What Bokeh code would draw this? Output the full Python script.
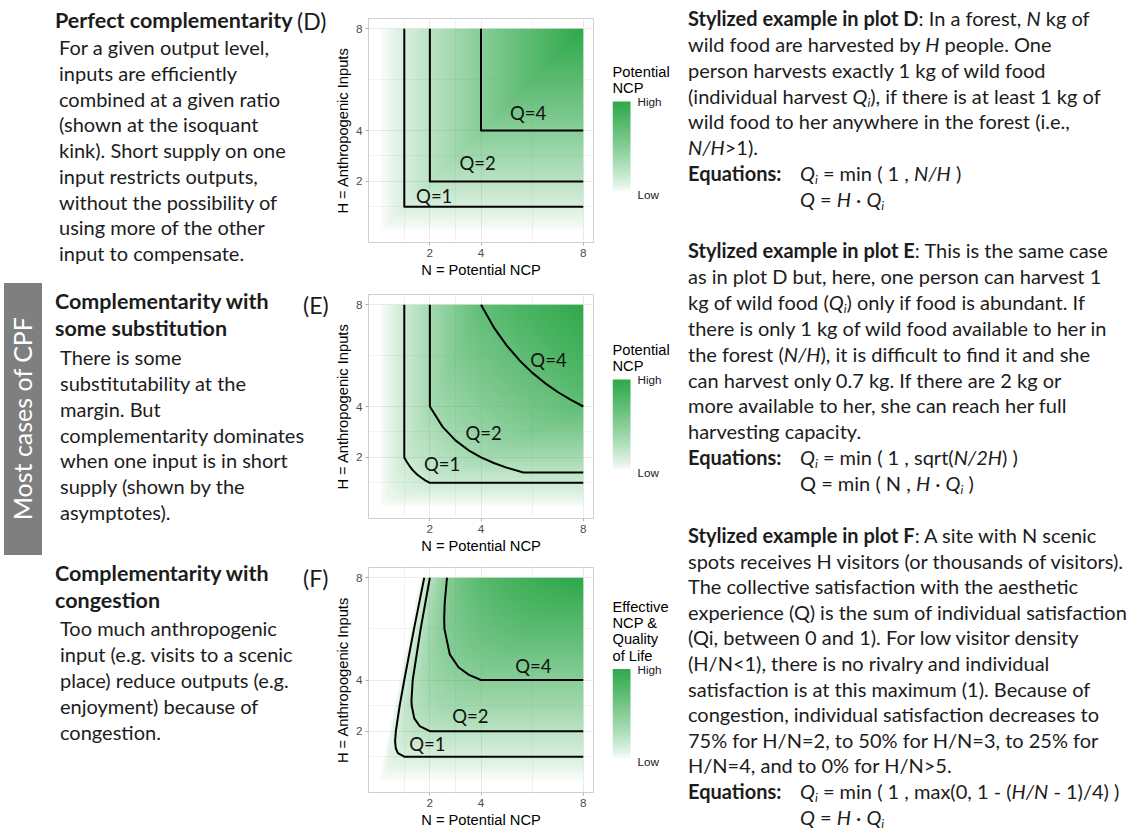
import numpy as np
from bokeh.plotting import figure
from bokeh.models import Range1d, FixedTicker, LinearColorMapper, Div
from bokeh.layouts import row, column
from bokeh.embed import file_html
from bokeh.resources import INLINE
from bokeh.core.properties import value

# ---------------- data ----------------
TICKS = [2, 4, 8]
MINOR_TICKS = [1, 3, 6]
Q_LABELS = ["Q=1", "Q=2", "Q=4"]

# plot D isoquants (N, H)
D_Q1_N = [1, 1, 8];  D_Q1_H = [8, 1, 1]
D_Q2_N = [2, 2, 8];  D_Q2_H = [8, 2, 2]
D_Q4_N = [4, 4, 8];  D_Q4_H = [8, 4, 4]
D_LABEL_N = [2.17, 3.87, 5.84]
D_LABEL_H = [1.41, 2.72, 4.70]

# plot E isoquants
E_Q1_N = [1, 1, 1.1, 1.2, 1.33, 1.5, 1.67, 1.82, 2, 8]
E_Q1_H = [8, 2, 1.82, 1.67, 1.5, 1.33, 1.2, 1.1, 1, 1]
E_Q2_N = [2, 2, 2.5, 3, 3.5, 4, 4.5, 5, 5.66, 8]
E_Q2_H = [8, 4, 3.2, 2.67, 2.29, 2, 1.78, 1.6, 1.41, 1.41]
E_Q4_N = [4, 4.5, 5, 5.5, 6, 6.5, 7, 7.5, 8]
E_Q4_H = [8, 7.11, 6.4, 5.82, 5.33, 4.92, 4.57, 4.27, 4]
E_LABEL_N = [2.48, 4.10, 6.64]
E_LABEL_H = [1.73, 2.96, 5.82]

# plot F isoquants
F_Q1_N = [1.78, 1.38, 1.0, 0.82, 0.67, 0.64, 0.667, 0.75, 1.0, 8]
F_Q1_H = [8, 6, 4, 3, 2, 1.6, 1.33, 1.14, 1.0, 1.0]
F_Q2_N = [2.0, 1.64, 1.33, 1.28, 1.29, 1.39, 1.6, 2.0, 8]
F_Q2_H = [8, 6, 4, 3.2, 3, 2.5, 2.2, 2.0, 2.0]
F_Q4_N = [2.67, 2.58, 2.56, 2.57, 2.78, 3.12, 3.53, 4.0, 8]
F_Q4_H = [8, 7, 6.4, 6, 5, 4.5, 4.2, 4.0, 4.0]
F_LABEL_N = [1.90, 3.58, 6.05]
F_LABEL_H = [1.48, 2.58, 4.53]

LEGEND_D = ["Potential", "NCP"]
LEGEND_E = ["Potential", "NCP"]
LEGEND_F = ["Effective", "NCP &", "Quality", "of Life"]
LEGEND_ENDS = ["High", "Low"]


# shaded surface: the production functions printed in the chart
def surface_D(N, H):
    return np.minimum(N, H)


def surface_E(N, H):
    with np.errstate(divide="ignore", invalid="ignore"):
        qi = np.minimum(1.0, np.sqrt(np.where(H > 0, N / np.where(H > 0, 2 * H, 1), 1.0)))
    return np.minimum(N, H * qi)


def surface_F(N, H):
    with np.errstate(divide="ignore", invalid="ignore"):
        r = np.where(N > 0, H / np.where(N > 0, N, 1), 1e9)
    qi = np.minimum(1.0, np.maximum(0.0, 1 - (r - 1) / 4))
    return H * qi


GRID = np.linspace(0, 8, 241)
NN, HH = np.meshgrid(GRID, GRID)

GREEN = "#2ea84a"
PALETTE = [GREEN + format(int(round(255 * a ** 0.8)), "02x") for a in np.linspace(0, 1, 256)]

AXIS_FONT = "Liberation Sans"
FRAME_W = 225
PLOT_W = 282
LEG_W = 76
BAR_W, BAR_H = 18, 91


def make_panel(surface, lines, lab_n, lab_h, legend_title, height, top, bottom, bar_y):
    p = figure(width=PLOT_W, height=height,
               x_range=Range1d(-0.4, 8.4), y_range=Range1d(-0.4, 8.4),
               toolbar_location=None, output_backend="svg",
               min_border_left=38, min_border_right=PLOT_W - 38 - FRAME_W,
               min_border_top=top, min_border_bottom=bottom)
    p.outline_line_color = "#cfcfcf"
    p.outline_line_width = 1
    z = surface(NN, HH)
    z = z / z.max()
    mapper = LinearColorMapper(palette=PALETTE, low=0, high=1)
    p.image(image=[z], x=0, y=0, dw=8, dh=8, color_mapper=mapper)
    for ns, hs in lines:
        p.line(ns, hs, line_color="black", line_width=2, line_join="round")
    p.text(x=lab_n, y=lab_h, text=Q_LABELS, text_font=value("Lato"),
           text_font_size="18.5px", text_align="center", text_baseline="middle",
           text_color="#111111")

    tick = FixedTicker(ticks=TICKS, minor_ticks=MINOR_TICKS)
    for ax in (p.xaxis[0], p.yaxis[0]):
        ax.ticker = tick
        ax.axis_line_color = None
        ax.major_tick_line_color = "#b3b3b3"
        ax.major_tick_out = 3
        ax.major_tick_in = 0
        ax.minor_tick_line_color = None
        ax.major_label_standoff = 2
        ax.major_label_text_font = AXIS_FONT
        ax.major_label_text_font_size = "11.7px"
        ax.major_label_text_color = "#4d4d4d"
        ax.axis_label_text_font = AXIS_FONT
        ax.axis_label_text_font_size = "14.7px"
        ax.axis_label_text_font_style = "normal"
        ax.axis_label_text_color = "#000000"
        ax.axis_label_standoff = 2
    p.xaxis[0].axis_label = "N = Potential NCP"
    p.yaxis[0].axis_label = "H = Anthropogenic Inputs"
    for g in (p.xgrid[0], p.ygrid[0]):
        g.ticker = tick
        g.grid_line_color = "#ebebeb"
        g.minor_grid_line_color = "#f3f3f3"

    # legend (colour bar) drawn in its own small figure; one unit = one pixel
    leg = figure(width=LEG_W, height=height, x_range=Range1d(0, LEG_W),
                 y_range=Range1d(bottom, height - top), toolbar_location=None,
                 output_backend="svg", x_axis_location=None, y_axis_location=None,
                 min_border_left=0, min_border_right=0,
                 min_border_top=top, min_border_bottom=bottom)
    leg.outline_line_color = None
    leg.grid.visible = False
    bar_bottom = bottom + bar_y
    bar_top = bar_bottom + BAR_H
    ramp = np.linspace(0, 1, 256).reshape(-1, 1)
    leg.image(image=[ramp], x=0, y=bar_bottom, dw=BAR_W, dh=BAR_H, color_mapper=mapper)
    n = len(legend_title)
    ty = [bar_top + 13.5 + (n - 1 - i) * 16.4 for i in range(n)]
    leg.text(x=[0] * n, y=ty, text=legend_title, text_font=value(AXIS_FONT),
             text_font_size="14.7px", text_color="#000000", text_align="left",
             text_baseline="middle")
    leg.text(x=[BAR_W + 7] * 2, y=[bar_top, bar_bottom - 2], text=LEGEND_ENDS,
             text_font=value(AXIS_FONT), text_font_size="11.7px",
             text_color="#1a1a1a", text_align="left", text_baseline="middle")
    return row(p, leg, spacing=0)


pD = make_panel(surface_D, [(D_Q1_N, D_Q1_H), (D_Q2_N, D_Q2_H), (D_Q4_N, D_Q4_H)],
                D_LABEL_N, D_LABEL_H, LEGEND_D, 280, 18, 38, 50)
pE = make_panel(surface_E, [(E_Q1_N, E_Q1_H), (E_Q2_N, E_Q2_H), (E_Q4_N, E_Q4_H)],
                E_LABEL_N, E_LABEL_H, LEGEND_E, 280, 14, 42, 48)
pF = make_panel(surface_F, [(F_Q1_N, F_Q1_H), (F_Q2_N, F_Q2_H), (F_Q4_N, F_Q4_H)],
                F_LABEL_N, F_LABEL_H, LEGEND_F, 270, 7, 37, 33)

# ---------------- texts ----------------
QI = "<i>Q<sub>i</sub></i>"

LEFT_D_HEAD = ["Perfect complementarity"]
LEFT_D_BODY = ["For a given output level,", "inputs are efficiently",
               "combined at a given ratio", "(shown at the isoquant",
               "kink). Short supply on one", "input restricts outputs,",
               "without the possibility of", "using more of the other",
               "input to compensate."]
LEFT_E_HEAD = ["Complementarity with", "some substitution"]
LEFT_E_BODY = ["There is some", "substitutability at the", "margin. But",
               "complementarity dominates", "when one input is in short",
               "supply (shown by the", "asymptotes)."]
LEFT_F_HEAD = ["Complementarity with", "congestion"]
LEFT_F_BODY = ["Too much anthropogenic", "input (e.g. visits to a scenic",
               "place) reduce outputs (e.g.", "enjoyment) because of", "congestion."]
PANEL_TAGS = ["(D)", "(E)", "(F)"]
SIDE_LABEL = "Most cases of CPF"

RIGHT_D = ["<b>Stylized example in plot D</b>: In a forest, <i>N</i> kg of",
           "wild food are harvested by <i>H</i> people. One",
           "person harvests exactly 1 kg of wild food",
           "(individual harvest " + QI + "), if there is at least 1 kg of",
           "wild food to her anywhere in the forest (i.e.,",
           "<i>N/H</i>&gt;1)."]
RIGHT_D_EQ = [QI + " = min ( 1 , <i>N/H</i> )", "<i>Q</i> = <i>H</i> &middot; " + QI]
RIGHT_E = ["<b>Stylized example in plot E</b>: This is the same case",
           "as in plot D but, here, one person can harvest 1",
           "kg of wild food (" + QI + ") only if food is abundant. If",
           "there is only 1 kg of wild food available to her in",
           "the forest (<i>N/H</i>), it is difficult to find it and she",
           "can harvest only 0.7 kg. If there are 2 kg or",
           "more available to her, she can reach her full",
           "harvesting capacity."]
RIGHT_E_EQ = [QI + " = min ( 1 , sqrt(<i>N/2H</i>) )",
              "Q = min ( N , <i>H</i> &middot; " + QI + " )"]
RIGHT_F = ["<b>Stylized example in plot F</b>: A site with N scenic",
           "spots receives H visitors (or thousands of visitors).",
           "The collective satisfaction with the aesthetic",
           "experience (Q) is the sum of individual satisfaction",
           "(Qi, between 0 and 1). For low visitor density",
           "(H/N&lt;1), there is no rivalry and individual",
           "satisfaction is at this maximum (1). Because of",
           "congestion, individual satisfaction decreases to",
           "75% for H/N=2, to 50% for H/N=3, to 25% for",
           "H/N=4, and to 0% for H/N&gt;5."]
RIGHT_F_EQ = [QI + " = min ( 1 , max(0, 1 - (<i>H/N</i> - 1)/4) )",
              "<i>Q</i> = <i>H</i> &middot; " + QI]
EQ_WORD = "Equations:"

LH = 26
BODY_PX = 20
HEAD_PX = 21.5


def line_html(x, y, html, size=BODY_PX, bold=False):
    w = "font-weight:700;" if bold else ""
    return (f'<div style="position:absolute;left:{x:.1f}px;top:{y - LH / 2:.1f}px;'
            f'line-height:{LH}px;font-size:{size}px;white-space:nowrap;{w}">{html}</div>')


STYLE = ("<style>sub{font-size:0.62em;line-height:0;vertical-align:-0.28em;}"
         "i{font-style:italic;}</style>")


def wrap(parts, w, h):
    return (STYLE + f'<div style="position:relative;width:{w}px;height:{h}px;'
            f'font-family:Lato;color:#1c1c1c;">' + "".join(parts) + "</div>")


LEFT_W, MID_W, RIGHT_W, TOTAL_H = 330, PLOT_W + LEG_W, 445, 830

left = []
left.append('<div style="position:absolute;left:4px;top:283px;width:38px;height:272px;'
            'background:#7f7f7f;display:flex;align-items:center;justify-content:center;">'
            '<div style="writing-mode:vertical-rl;transform:rotate(180deg);color:#ffffff;'
            f'font-size:25px;white-space:nowrap;">{SIDE_LABEL}</div></div>')


def block(parts, heads, body, head_y, head_step, body_y, body_step, hx, bx):
    for i, t in enumerate(heads):
        parts.append(line_html(hx, head_y + i * head_step, t, size=HEAD_PX, bold=True))
    for i, t in enumerate(body):
        parts.append(line_html(bx, body_y + i * body_step, t))


block(left, LEFT_D_HEAD, LEFT_D_BODY, 20, 0, 47, 25.75, 55, 59)
block(left, LEFT_E_HEAD, LEFT_E_BODY, 301, 27, 357, 25.83, 55, 60)
block(left, LEFT_F_HEAD, LEFT_F_BODY, 573, 27, 628, 26, 55, 60)
for tag, tx, ty in zip(PANEL_TAGS, [297, 303, 303], [21, 305, 578]):
    left.append(line_html(tx, ty, tag, size=23))

right = []
RX = LEFT_W + MID_W


def rblock(lines, eqs, y0, step):
    for i, t in enumerate(lines):
        right.append(line_html(0, y0 + i * step, t))
    n = len(lines)
    right.append(line_html(0, y0 + n * step, EQ_WORD, bold=True))
    right.append(line_html(800 - RX, y0 + n * step, eqs[0]))
    right.append(line_html(800 - RX, y0 + (n + 1) * step, eqs[1]))


rblock(RIGHT_D, RIGHT_D_EQ, 18, 25.86)
rblock(RIGHT_E, RIGHT_E_EQ, 250, 25.9)
rblock(RIGHT_F, RIGHT_F_EQ, 535, 25.6)

left_div = Div(text=wrap(left, LEFT_W, TOTAL_H), width=LEFT_W, height=TOTAL_H, margin=0)
right_div = Div(text=wrap(right, RIGHT_W, TOTAL_H), width=RIGHT_W, height=TOTAL_H, margin=0)

layout = row(left_div, column(pD, pE, pF, spacing=0), right_div, spacing=0)

open("out.html", "w").write(file_html(layout, INLINE))
